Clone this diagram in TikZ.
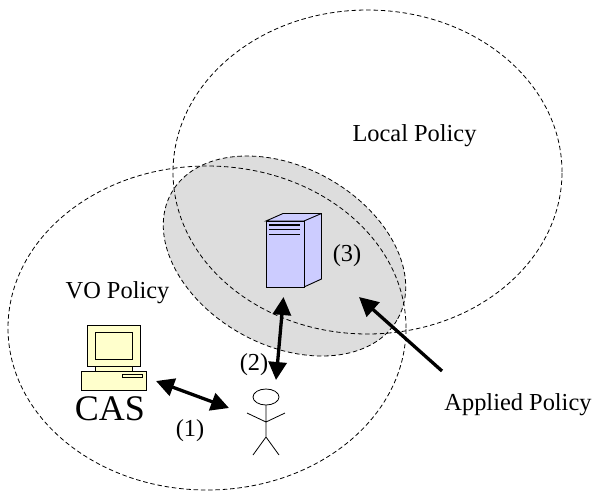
\documentclass[tikz,border=0pt]{standalone}
\usepackage{fontspec}
\setmainfont{Liberation Serif}
\usetikzlibrary{arrows.meta,shapes.geometric}
\definecolor{srv}{RGB}{204,204,255}
\definecolor{pc}{RGB}{255,255,204}
\definecolor{grayarea}{RGB}{221,221,221}
\tikzset{
  x=1pt,y=-1pt,
  zone/.style={draw=black,dash pattern=on 4.5pt off 2.8pt,line width=0.8pt,ellipse,inner sep=0pt},
  thick arrow/.style={line width=3.3pt,-{Triangle[length=19pt,width=19pt]}},
  both arrow/.style={line width=3.3pt,{Triangle[length=18pt,width=18pt]}-{Triangle[length=18pt,width=18pt]}},
  lab/.style={font=\fontsize{24.4}{28}\selectfont,inner sep=0pt,text=black},
  part/.style={draw=black,line width=0.9pt,line join=miter},
  fig/.style={draw=black,line width=0.8pt}
}
\begin{document}
\begin{tikzpicture}
\useasboundingbox (0,0) rectangle (603,491);
\node[zone,fill=grayarea,minimum width=259pt,minimum height=178pt,rotate=-29] (applied) at (284.5,256) {};
\node[zone,minimum width=398pt,minimum height=324pt] (vo) at (207,328) {};
\node[zone,minimum width=389pt,minimum height=324pt] (local) at (367.5,172) {};
% server
\filldraw[part,fill=srv] (266,221) -- (283,213.5) -- (321.5,213.5) -- (321.5,279) -- (304,287) -- (304,221) -- cycle;
\draw[part] (304,221) -- (321.5,213.5);
\filldraw[part,fill=srv] (266,221) rectangle (304,287);
\draw[black,line width=1.6pt] (269,225) -- (300,225) (269,229.5) -- (300,229.5) (269,234.5) -- (300,234.5);
\coordinate (srvS) at (283.5,297);
\coordinate (srvE) at (359,297);
% computer
\filldraw[part,fill=pc] (87,325) rectangle (140,366);
\filldraw[part,fill=pc] (95,332) rectangle (132,359);
\filldraw[part,fill=pc] (95,366) rectangle (132,371);
\filldraw[part,fill=pc] (81,371) rectangle (146,390);
\draw[line width=0.8pt,fill=pc] (122,374) rectangle (142,377);
\coordinate (pcE) at (156,381);
% person
\draw[fig] (266,397) ellipse (13pt and 8pt);
\draw[fig] (266,405) -- (266,437) (266,437) -- (253,455) (266,437) -- (279,455) (247,413) -- (266,422) -- (285,413);
\coordinate (pW) at (229,408);
\coordinate (pN) at (276,380);
\coordinate (appliedEnd) at (442,371);
% arrows
\draw[both arrow] (pcE) -- (pW);
\draw[both arrow] (srvS) -- (pN);
\draw[thick arrow] (appliedEnd) -- (srvE);
% labels
\node[lab] (lp) at (414.5,136) {Local Policy};
\node[lab] (vp) at (117.5,292.5) {VO Policy};
\node[lab] (ap) at (518,404.5) {Applied Policy};
\node[lab] (t3) at (347,255.5) {(3)};
\node[lab] (t2) at (254,365) {(2)};
\node[lab] (t1) at (190,431) {(1)};
\node[font=\fontsize{36}{40}\selectfont,inner sep=0pt] (cas) at (110,409) {CAS};
\end{tikzpicture}
\end{document}
